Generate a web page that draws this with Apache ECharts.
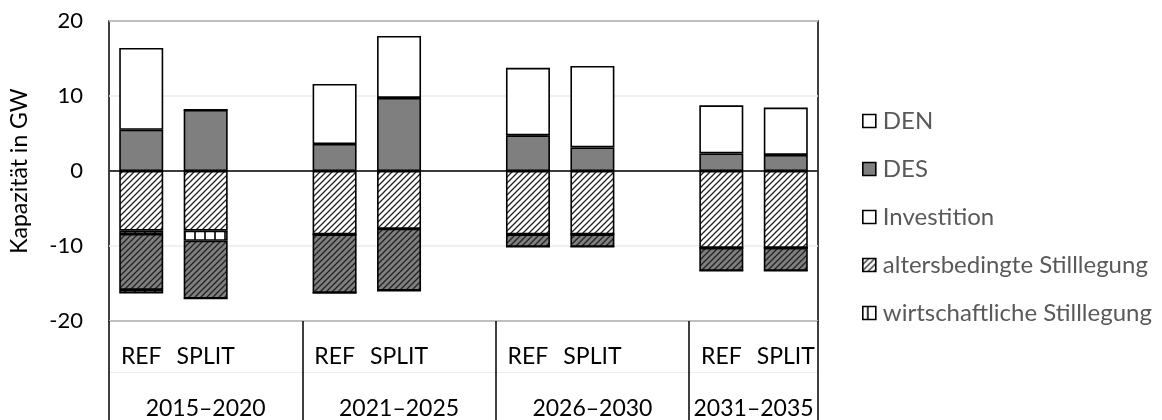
<!DOCTYPE html>
<html>
<head>
<meta charset="utf-8">
<script src="https://cdn.jsdelivr.net/npm/echarts@6/dist/echarts.min.js"></script>
<style>
html,body{margin:0;padding:0;background:#fff;}
#chart{width:1162px;height:420px;}
</style>
</head>
<body>
<div id="chart"></div>
<script>
// ---- data ----
const periods = ['2015–2020', '2021–2025', '2026–2030', '2031–2035'];
const scenarios = ['REF', 'SPLIT'];
const yTicks = [-20, -10, 0, 10, 20];
// bars in order: 2015 REF, 2015 SPLIT, 2021 REF, 2021 SPLIT, 2026 REF, 2026 SPLIT, 2031 REF, 2031 SPLIT
const desInvest  = [5.5, 8.15, 3.6, 9.75, 4.75, 3.15, 2.35, 2.15];
const denInvest  = [10.9, 0, 8.0, 8.25, 9.0, 10.85, 6.4, 6.3];
const denAlters  = [-7.95, -7.95, -8.45, -7.7, -8.45, -8.45, -10.25, -10.25];
const denWirt    = [-0.45, -1.35, 0, 0, 0, 0, 0, 0];
const desAlters  = [-7.45, -7.7, -7.8, -8.25, -1.65, -1.65, -3.05, -3.05];
const desWirt    = [-0.5, 0, 0, 0, 0, 0, 0, 0];

// ---- build category slots (REF, SPLIT, gap) ----
const categories = [];
periods.forEach((p, g) => {
  scenarios.forEach(s => categories.push(s));
  if (g < periods.length - 1) categories.push('');
});
function slots(arr) {
  const out = [];
  periods.forEach((p, g) => {
    out.push(arr[g * 2], arr[g * 2 + 1]);
    if (g < periods.length - 1) out.push(null);
  });
  return out;
}
const groupStart = [];
const groupMid = [];
{
  let idx = 0;
  periods.forEach((p, g) => {
    const n = g < periods.length - 1 ? 3 : 2;
    groupStart.push(idx);
    groupMid.push(idx + n / 2);
    idx += n;
  });
  groupStart.push(idx);
}

// ---- patterns ----
const GRAY = '#7f7f7f';
function hatch(bg) {
  const c = document.createElement('canvas');
  c.width = 6; c.height = 6;
  const x = c.getContext('2d');
  x.fillStyle = bg; x.fillRect(0, 0, 6, 6);
  x.strokeStyle = '#222'; x.lineWidth = 1.3;
  x.beginPath();
  x.moveTo(-1, 7); x.lineTo(7, -1);
  x.moveTo(-1, 1); x.lineTo(1, -1);
  x.moveTo(5, 7); x.lineTo(7, 5);
  x.stroke();
  return { image: c, repeat: 'repeat' };
}
function vstripe(bg) {
  const c = document.createElement('canvas');
  c.width = 10; c.height = 4;
  const x = c.getContext('2d');
  x.fillStyle = bg; x.fillRect(0, 0, 10, 4);
  x.fillStyle = '#000'; x.fillRect(4.2, 0, 1.6, 4);
  return { image: c, repeat: 'repeat' };
}

const FONT = 'Lato';
const border = { borderColor: '#000', borderWidth: 1.6 };
function bar(name, data, color, extra) {
  return Object.assign({
    name: name, type: 'bar', stack: 'a', barWidth: 44,
    data: data ? slots(data) : [],
    itemStyle: Object.assign({ color: color }, border)
  }, extra || {});
}

const series = [
  bar('DES', desInvest, GRAY, {
    markLine: {
      silent: true, symbol: 'none', label: { show: false },
      lineStyle: { color: '#000', width: 1.5, type: 'solid' },
      data: [{ yAxis: 0 }]
    }
  }),
  bar('DEN', denInvest, '#ffffff'),
  bar('altersbedingte Stilllegung', denAlters, hatch('#ffffff')),
  bar('wirtschaftliche Stilllegung', denWirt, vstripe('#ffffff')),
  bar('altersbedingte Stilllegung DES', desAlters, hatch(GRAY)),
  bar('wirtschaftliche Stilllegung DES', desWirt, vstripe(GRAY)),
  bar('Investition', null, '#ffffff')
];

const chart = echarts.init(document.getElementById('chart'), null, { renderer: 'canvas' });
chart.setOption({
  animation: false,
  backgroundColor: '#fff',
  textStyle: { fontFamily: FONT },
  grid: { left: 106, right: 344, top: 21, bottom: 98, show: true, borderColor: '#000', borderWidth: 1.5, backgroundColor: 'transparent' },
  legend: {
    orient: 'vertical', left: 857, top: 103,
    icon: 'rect',
    itemWidth: 13, itemHeight: 13, itemGap: 22,
    data: ['DEN', 'DES', 'Investition', 'altersbedingte Stilllegung', 'wirtschaftliche Stilllegung'],
    textStyle: { fontFamily: FONT, fontSize: 24, color: '#595959', lineHeight: 26, padding: [0, 0, 0, 2] },
    itemStyle: { borderWidth: 1.6, borderColor: '#000' }
  },
  xAxis: [
    {
      type: 'category', data: categories, position: 'bottom',
      axisLine: { show: false }, axisTick: { show: false },
      axisLabel: { interval: 0, fontSize: 23, color: '#000', margin: 24, fontFamily: FONT }
    },
    {
      type: 'value', min: 0, max: categories.length, position: 'bottom',
      axisLine: { show: false }, splitLine: { show: false },
      axisTick: { show: true, customValues: groupStart, length: 100, lineStyle: { color: '#000', width: 1.5 } },
      axisLabel: {
        customValues: groupMid, margin: 76, fontSize: 23, color: '#000', fontFamily: FONT,
        formatter: v => { const i = groupMid.indexOf(v); return i >= 0 ? periods[i] : ''; }
      }
    },
    {
      type: 'value', min: 0, max: categories.length, position: 'bottom', offset: 51,
      axisLine: { show: true, lineStyle: { color: '#eeeeee', width: 1 } },
      axisTick: { show: false }, axisLabel: { show: false }, splitLine: { show: false }
    }
  ],
  yAxis: {
    type: 'value', min: yTicks[0], max: yTicks[yTicks.length - 1], interval: 10,
    name: 'Kapazität in GW', nameLocation: 'middle', nameGap: 78,
    nameTextStyle: { fontSize: 23, color: '#000', fontFamily: FONT },
    axisLine: { show: false }, axisTick: { show: false },
    axisLabel: { fontSize: 22, color: '#000', margin: 26, fontFamily: FONT },
    splitLine: { show: true, lineStyle: { color: '#ebebeb', width: 1.5 } }
  },
  series: series
});
</script>
</body>
</html>
